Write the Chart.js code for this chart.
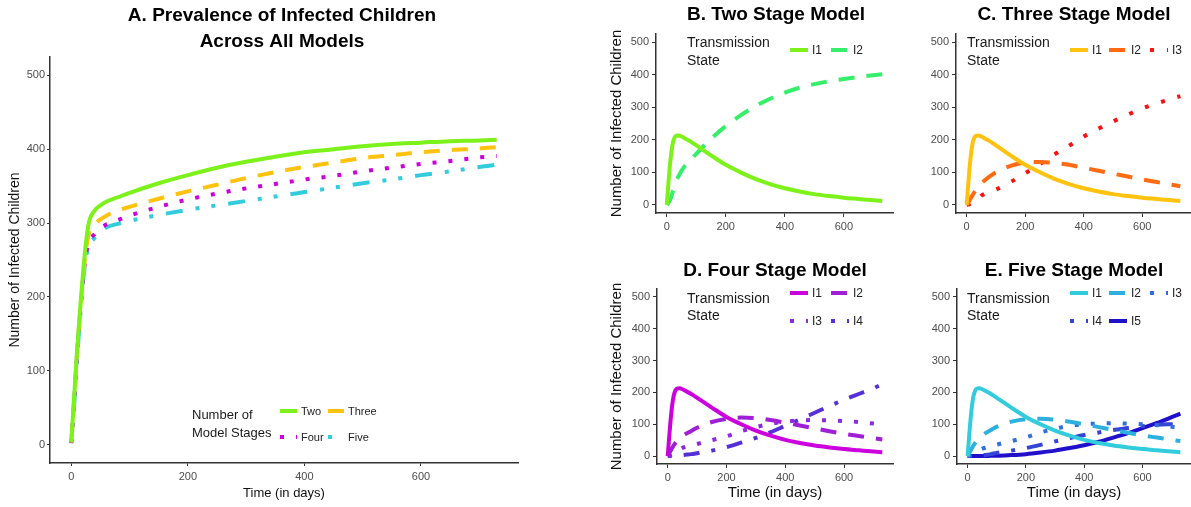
<!DOCTYPE html>
<html>
<head>
<meta charset="utf-8">
<script src="https://cdn.jsdelivr.net/npm/chart.js@4.4.1/dist/chart.umd.min.js"></script>
<style>
  body { margin: 0; background: #fff; width: 1191px; height: 507px; overflow: hidden; position: relative; }
  canvas { position: absolute; }
</style>
</head>
<body>
<canvas id="panelA"></canvas>
<canvas id="panelB"></canvas>
<canvas id="panelC"></canvas>
<canvas id="panelD"></canvas>
<canvas id="panelE"></canvas>
<script>
// Time axis shared by every panel
const days = [0, 5, 10, 15, 20, 25, 30, 40, 50, 60, 80, 100, 150, 200, 250, 300, 350, 400, 450, 500, 550, 600, 650, 700, 730];
const dayTicks = [0, 200, 400, 600];
const countTicks = [0, 100, 200, 300, 400, 500];

// Panel A - total infected per model
const totalTwo   = [3, 65, 128, 182, 230, 272, 300, 317, 324, 329, 335, 341, 354, 365, 375, 383, 390, 396, 400, 404, 407, 409, 411, 412, 413];
const totalThree = [3, 62, 124, 178, 225, 262, 285, 298, 305, 310, 317, 322, 333, 343, 352, 361, 369, 376, 382, 388, 392, 396, 399, 401, 403];
const totalFour  = [2, 58, 120, 175, 222, 256, 274, 285, 293, 298, 304, 310, 322, 332, 340, 347, 353, 359, 364, 370, 375, 380, 384, 389, 391];
const totalFive  = [2, 55, 117, 172, 220, 252, 268, 280, 288, 294, 299, 303, 311, 318, 324, 330, 336, 342, 348, 354, 359, 365, 370, 376, 379];

// I1 looks the same in every model
const firstStage = [0, 60, 115, 158, 188, 204, 211, 213, 210, 205, 195, 183, 152, 123, 100, 80, 64, 51, 41, 33, 27, 22, 18, 14, 12];

// B. two stage
const twoI2 = [0, 5, 13, 24, 40, 55, 68, 88, 105, 118, 138, 157, 203, 242, 275, 303, 326, 345, 360, 371, 380, 387, 393, 398, 401];
// C. three stage
const threeI2 = [0, 6, 14, 22, 30, 37, 44, 56, 66, 74, 88, 100, 120, 130, 132, 129, 123, 114, 105, 96, 87, 78, 70, 62, 57];
const threeI3 = [0, 1, 2, 4, 6, 8, 11, 18, 28, 33, 40, 47, 70, 97, 125, 155, 182, 210, 234, 256, 277, 296, 312, 326, 334];
// D. four stage
const fourI2 = [0, 8, 17, 25, 33, 40, 46, 56, 63, 69, 79, 89, 107, 117, 121, 119, 113, 105, 96, 87, 78, 70, 63, 56, 52];
const fourI3 = [0, 1, 3, 6, 9, 12, 15, 21, 26, 28, 33, 38, 50, 62, 78, 91, 101, 108, 112, 113, 112, 110, 107, 102, 99];
const fourI4 = [0, 0, 0, 0, 0, 1, 1, 2, 3, 4, 6, 9, 17, 28, 42, 57, 75, 95, 115, 136, 157, 177, 195, 213, 226];
// E. five stage
const fiveI2 = [0, 8, 17, 25, 33, 40, 46, 56, 64, 71, 82, 92, 108, 116, 117, 114, 108, 100, 91, 82, 73, 65, 58, 51, 47];
const fiveI3 = [0, 1, 3, 5, 8, 11, 14, 19, 23, 26, 31, 36, 47, 59, 74, 86, 95, 100, 102, 103, 102, 100, 97, 92, 89];
const fiveI4 = [0, 0, 0, 0, 0, 0, 1, 1, 2, 3, 6, 10, 17, 25, 35, 46, 56, 66, 74, 82, 88, 94, 98, 100, 101];
const fiveI5 = [0, 0, 0, 0, 0, 0, 0, 0, 0, 0, 1, 1, 3, 6, 11, 17, 25, 34, 45, 58, 72, 88, 104, 122, 133];

const FONT = '"Liberation Sans", Arial, sans-serif';
const SOLID = [], DASHED = [16, 12], DOTTED = [4, 12], DOTDASH = [4, 12, 16, 12];

function series(label, values, color, dash) {
  return {
    label: label,
    data: days.map((d, i) => ({ x: d, y: values[i] })),
    borderColor: color,
    backgroundColor: color,
    borderDash: dash,
    borderWidth: 4,
    borderCapStyle: 'butt',
    pointRadius: 0,
    cubicInterpolationMode: 'monotone',
    fill: false
  };
}

// titles + ggplot-like legends, drawn straight onto the canvas
const panelText = {
  id: 'panelText',
  afterDraw(chart, args, opts) {
    const ctx = chart.ctx;
    const ox = opts.ox, oy = opts.oy;
    ctx.save();
    ctx.fillStyle = '#000';
    ctx.textBaseline = 'middle';
    ctx.textAlign = 'center';
    ctx.font = 'bold ' + opts.titleSize + 'px ' + FONT;
    opts.title.forEach((t, i) => ctx.fillText(t, opts.titleX - ox, opts.titleY - oy + i * opts.titleGap));

    const lg = opts.legend;
    ctx.textAlign = 'left';
    ctx.fillStyle = '#1a1a1a';
    ctx.font = lg.titleSize + 'px ' + FONT;
    lg.title.forEach((t, i) => ctx.fillText(t, lg.x - ox, lg.y - oy + i * lg.gap));
    ctx.font = lg.labelSize + 'px ' + FONT;
    lg.items.forEach(it => {
      const ds = chart.data.datasets[it.ds];
      ctx.save();
      ctx.strokeStyle = ds.borderColor;
      ctx.lineWidth = 4;
      ctx.lineCap = 'butt';
      ctx.setLineDash(ds.borderDash || []);
      ctx.beginPath();
      ctx.moveTo(it.x - ox, it.y - oy);
      ctx.lineTo(it.x - ox + it.len, it.y - oy);
      ctx.stroke();
      ctx.restore();
      ctx.fillStyle = '#222';
      ctx.fillText(ds.label, it.x - ox + it.len + 4, it.y - oy + 0.5);
    });
    ctx.restore();
  }
};

function panel(id, box, area, ax, datasets, text) {
  const canvas = document.getElementById(id);
  canvas.width = box.w;
  canvas.height = box.h;
  canvas.style.left = box.x + 'px';
  canvas.style.top = box.y + 'px';
  text.ox = box.x;
  text.oy = box.y;
  const yWidth = area.l - box.x;
  const xHeight = box.y + box.h - area.b;
  const yTitle = ax.yTitle || { text: '', size: 14, center: 0 };
  const xTitle = ax.xTitle || { text: '', size: 14, center: 0 };

  return new Chart(canvas, {
    type: 'line',
    data: { datasets: datasets },
    options: {
      responsive: false,
      animation: false,
      layout: { padding: { left: 0, top: area.t - box.y, right: box.x + box.w - area.r, bottom: 0 } },
      plugins: {
        legend: { display: false },
        tooltip: { enabled: false },
        title: { display: false },
        panelText: text
      },
      scales: {
        x: {
          type: 'linear',
          min: -36.5,
          max: 766.5,
          afterBuildTicks: s => { s.ticks = dayTicks.map(v => ({ value: v })); },
          afterFit: s => { s.height = xHeight; },
          grid: { drawOnChartArea: false, drawTicks: true, tickLength: ax.tickLen, color: '#333' },
          border: { display: true, color: '#333', width: 1.5 },
          ticks: { color: '#4d4d4d', font: { family: FONT, size: ax.tick }, padding: ax.tickPad + (ax.xExtra || 0), maxRotation: 0, autoSkip: false },
          title: {
            display: !!xTitle.text,
            text: xTitle.text,
            color: '#111',
            font: { family: FONT, size: xTitle.size },
            padding: { top: 0, bottom: box.y + box.h - xTitle.center - xTitle.size * 0.6 }
          }
        },
        y: {
          type: 'linear',
          min: -25,
          max: 525,
          afterBuildTicks: s => { s.ticks = countTicks.map(v => ({ value: v })); },
          afterFit: s => { s.width = yWidth; },
          grid: { drawOnChartArea: false, drawTicks: true, tickLength: ax.tickLen, color: '#333' },
          border: { display: true, color: '#333', width: 1.5 },
          ticks: { color: '#4d4d4d', font: { family: FONT, size: ax.tick }, padding: ax.tickPad },
          title: {
            display: !!yTitle.text,
            text: yTitle.text,
            color: '#111',
            font: { family: FONT, size: yTitle.size },
            padding: { top: yTitle.center - box.x - yTitle.size * 0.6, bottom: 0 }
          }
        }
      }
    },
    plugins: [panelText]
  });
}

const smallAxes = { tick: 11, tickLen: 4, tickPad: 3 };
const yLabel = 'Number of Infected Children';
const xLabel = 'Time (in days)';

// A. all models
panel('panelA', { x: 0, y: 0, w: 590, h: 507 }, { l: 50, t: 57, r: 518, b: 463 },
  { tick: 11, tickLen: 3, tickPad: 2, xExtra: 2,
    yTitle: { text: yLabel, size: 14, center: 15 },
    xTitle: { text: xLabel, size: 13, center: 493 } },
  [
    series('Two', totalTwo, '#7cf21a', SOLID),
    series('Three', totalThree, '#ffc20e', DASHED),
    series('Four', totalFour, '#cc00dd', DOTTED),
    series('Five', totalFive, '#33ccdd', [4, 12, 4, 13, 17, 13])
  ],
  { title: ['A. Prevalence of Infected Children', 'Across All Models'], titleX: 282, titleY: 16, titleGap: 26, titleSize: 19,
    legend: { x: 192, y: 415, gap: 18, titleSize: 13, labelSize: 11, title: ['Number of', 'Model Stages'],
      items: [
        { ds: 0, x: 280, y: 411, len: 17 },
        { ds: 1, x: 328, y: 411, len: 16 },
        { ds: 2, x: 280, y: 437, len: 17 },
        { ds: 3, x: 328, y: 437, len: 16 }
      ] } });

// B. two stage
panel('panelB', { x: 590, y: 0, w: 310, h: 250 }, { l: 656, t: 34, r: 893, b: 213 },
  Object.assign({ yTitle: { text: yLabel, size: 15, center: 617 } }, smallAxes),
  [
    series('I1', firstStage, '#7cf21a', SOLID),
    series('I2', twoI2, '#35ee6a', DASHED)
  ],
  { title: ['B. Two Stage Model'], titleX: 776, titleY: 15, titleGap: 0, titleSize: 19,
    legend: { x: 687, y: 43, gap: 18, titleSize: 14, labelSize: 12, title: ['Transmission', 'State'],
      items: [
        { ds: 0, x: 790, y: 50, len: 18 },
        { ds: 1, x: 831, y: 50, len: 18 }
      ] } });

// C. three stage
panel('panelC', { x: 895, y: 0, w: 296, h: 250 }, { l: 956, t: 34, r: 1191, b: 213 },
  smallAxes,
  [
    series('I1', firstStage, '#ffc20e', SOLID),
    series('I2', threeI2, '#ff6a13', DASHED),
    series('I3', threeI3, '#ff1010', [4, 13])
  ],
  { title: ['C. Three Stage Model'], titleX: 1074, titleY: 15, titleGap: 0, titleSize: 19,
    legend: { x: 967, y: 43, gap: 18, titleSize: 14, labelSize: 12, title: ['Transmission', 'State'],
      items: [
        { ds: 0, x: 1070, y: 50, len: 18 },
        { ds: 1, x: 1109, y: 50, len: 18 },
        { ds: 2, x: 1150, y: 50, len: 18 }
      ] } });

// D. four stage
panel('panelD', { x: 590, y: 250, w: 310, h: 257 }, { l: 657, t: 289, r: 893, b: 464 },
  Object.assign({ yTitle: { text: yLabel, size: 15, center: 617 }, xTitle: { text: xLabel, size: 15, center: 493 } }, smallAxes),
  [
    series('I1', firstStage, '#cc00dd', SOLID),
    series('I2', fourI2, '#a01fd6', DASHED),
    series('I3', fourI3, '#8a2be2', DOTTED),
    series('I4', fourI4, '#5530d8', DOTDASH)
  ],
  { title: ['D. Four Stage Model'], titleX: 775, titleY: 271, titleGap: 0, titleSize: 19,
    legend: { x: 687, y: 299, gap: 17, titleSize: 14, labelSize: 12, title: ['Transmission', 'State'],
      items: [
        { ds: 0, x: 790, y: 293, len: 18 },
        { ds: 1, x: 831, y: 293, len: 18 },
        { ds: 2, x: 790, y: 321, len: 18 },
        { ds: 3, x: 831, y: 321, len: 18 }
      ] } });

// E. five stage
panel('panelE', { x: 895, y: 250, w: 296, h: 257 }, { l: 957, t: 289, r: 1191, b: 464 },
  Object.assign({ xTitle: { text: xLabel, size: 15, center: 493 } }, smallAxes),
  [
    series('I1', firstStage, '#33ccdd', SOLID),
    series('I2', fiveI2, '#2eb0de', DASHED),
    series('I3', fiveI3, '#2f6fe0', DOTTED),
    series('I4', fiveI4, '#3545d8', DOTDASH),
    series('I5', fiveI5, '#2010cc', SOLID)
  ],
  { title: ['E. Five Stage Model'], titleX: 1074, titleY: 271, titleGap: 0, titleSize: 19,
    legend: { x: 967, y: 299, gap: 17, titleSize: 14, labelSize: 12, title: ['Transmission', 'State'],
      items: [
        { ds: 0, x: 1070, y: 293, len: 18 },
        { ds: 1, x: 1109, y: 293, len: 18 },
        { ds: 2, x: 1150, y: 293, len: 18 },
        { ds: 3, x: 1070, y: 321, len: 18 },
        { ds: 4, x: 1109, y: 321, len: 18 }
      ] } });
</script>
</body>
</html>
